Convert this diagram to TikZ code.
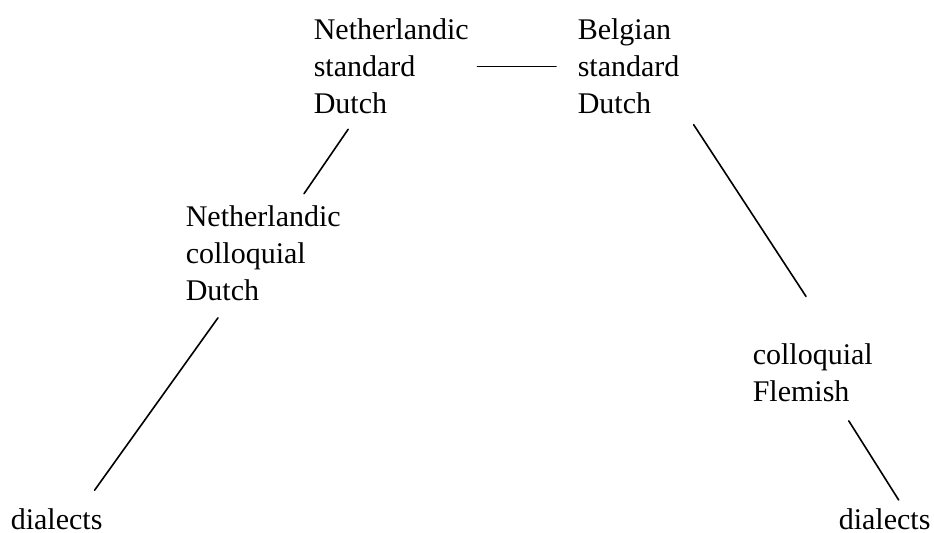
\documentclass[tikz,border=0pt]{standalone}
\usepackage{fontspec}
\setmainfont{Liberation Serif}
\begin{document}
\begin{tikzpicture}[x=0.5pt,y=-0.5pt, font=\fontsize{15}{18.5}\selectfont, line join=round, line cap=round, line width=0.8pt]
	\tikzset{variety/.style={align=left, inner sep=4pt, anchor=north west}}
	\useasboundingbox (0,0) rectangle (934,533);
	\node[variety] (nsd) at (305,10) {Netherlandic\\standard\\Dutch};
	\node[variety] (bsd) at (569,10) {Belgian\\standard\\Dutch};
	\node[variety] (ncd) at (177,197) {Netherlandic\\colloquial\\Dutch};
	\node[variety] (cf) at (744,335) {colloquial\\Flemish};
	\node[variety] (dl) at (2,500) {dialects};
	\node[variety] (dr) at (830,500) {dialects};
	\draw[shorten >=6.5pt] (nsd)--(bsd);
	\draw[shorten <=4pt, shorten >=2pt] (nsd)--(ncd);
	\draw[shorten <=5pt, shorten >=6pt] (ncd.-125)--(dl.32);
	\draw[shorten <=5pt, shorten >=23pt] (bsd.-40)--(cf.64);
	\draw[shorten <=6pt] (cf.-52)--(dr.54);
\end{tikzpicture}
\end{document}
